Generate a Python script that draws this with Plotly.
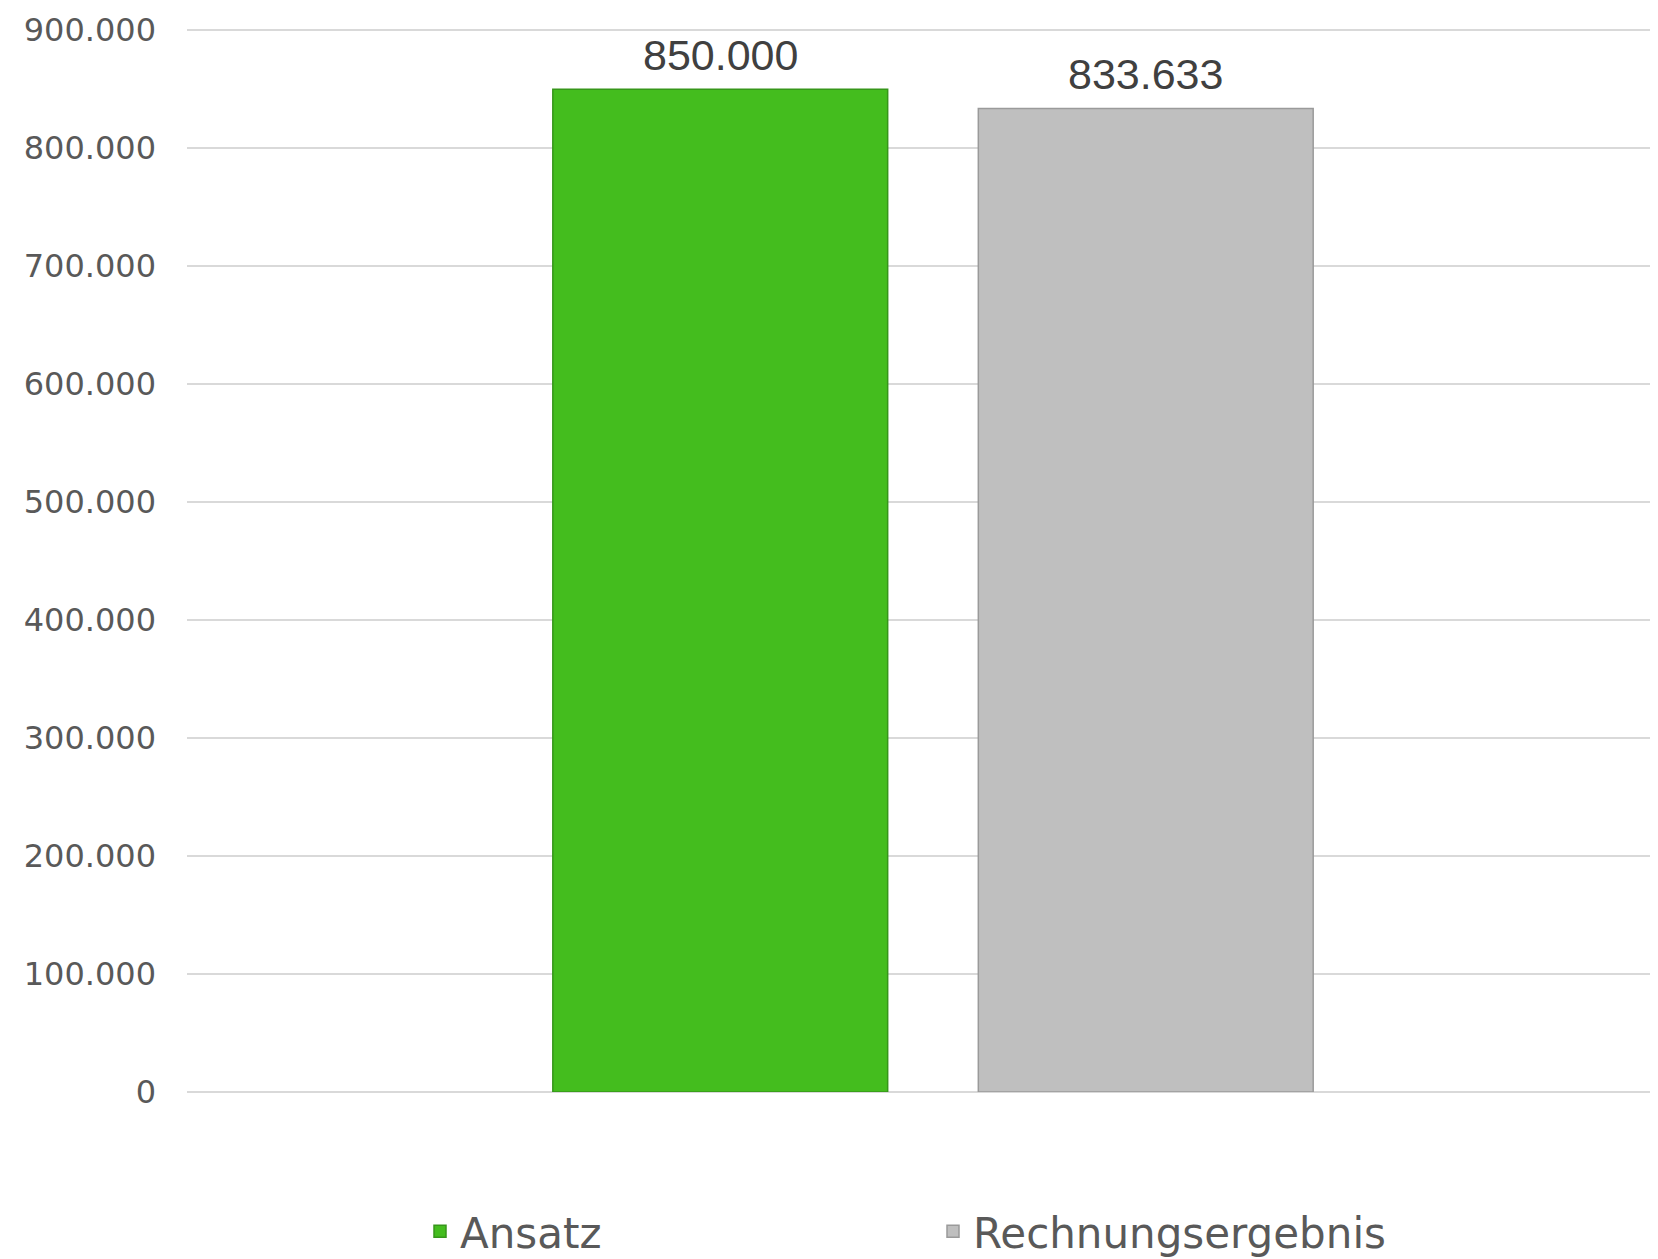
import plotly.graph_objects as go

categories = ["Gesamt"]
series_names = ["Ansatz", "Rechnungsergebnis"]
ansatz = [850000]
rechnungsergebnis = [833633]
tick_vals = [0, 100000, 200000, 300000, 400000, 500000, 600000, 700000, 800000, 900000]

fill_colors = ["#44BD1E", "#BFBFBF"]
line_colors = ["#36961A", "#9A9A9A"]

FIG_W = 1658
MARGIN_L = 179
PLOT_W = FIG_W - MARGIN_L
BARGAP = 1 - 851 / PLOT_W
slot_px = (1 - BARGAP) * PLOT_W / 2
offsets = [-slot_px / 2, slot_px / 2]
x_left = -(925 - MARGIN_L) / PLOT_W

fig = go.Figure()
for name, vals, fc, lc in zip(series_names, [ansatz, rechnungsergebnis], fill_colors, line_colors):
    fig.add_trace(go.Bar(
        x=categories, y=vals, name=name,
        marker=dict(color=fc, line=dict(color=lc, width=1.5)),
        cliponaxis=False,
    ))

annotations = []
for vals, off in zip([ansatz, rechnungsergebnis], offsets):
    for c, v in zip(categories, vals):
        annotations.append(dict(
            x=c, y=v, xref="x", yref="y", xshift=off, yshift=34,
            text=f"{v:,.0f}".replace(",", "."), showarrow=False,
            xanchor="center", yanchor="middle",
            font=dict(family="Liberation Sans, Arial", size=43, color="#404040"),
        ))

fig.update_layout(
    width=FIG_W, height=1251,
    margin=dict(l=MARGIN_L, r=0, t=21, b=167, autoexpand=False),
    paper_bgcolor="white", plot_bgcolor="white",
    separators=",.",
    barmode="group", bargap=BARGAP, bargroupgap=0.213,
    showlegend=True,
    legend=dict(orientation="h", x=(412 - MARGIN_L) / PLOT_W, xanchor="left", y=-0.1312, yanchor="middle",
                font=dict(family="DejaVu Sans", size=42, color="#595959"),
                entrywidth=468, entrywidthmode="pixels"),
    font=dict(family="DejaVu Sans", color="#595959"),
    annotations=annotations,
)
fig.update_xaxes(range=[x_left, x_left + 1], showticklabels=False, showgrid=False, zeroline=False, showline=False)
fig.update_yaxes(range=[0, 901000], tickvals=tick_vals, tickformat=",.0f",
                 tickfont=dict(family="DejaVu Sans", size=32, color="#595959"),
                 showgrid=True, gridcolor="#D9D9D9", gridwidth=2,
                 zeroline=True, zerolinecolor="#D9D9D9", zerolinewidth=2,
                 showline=False, ticks="", ticklabelstandoff=30)

fig.write_html("out.html")
